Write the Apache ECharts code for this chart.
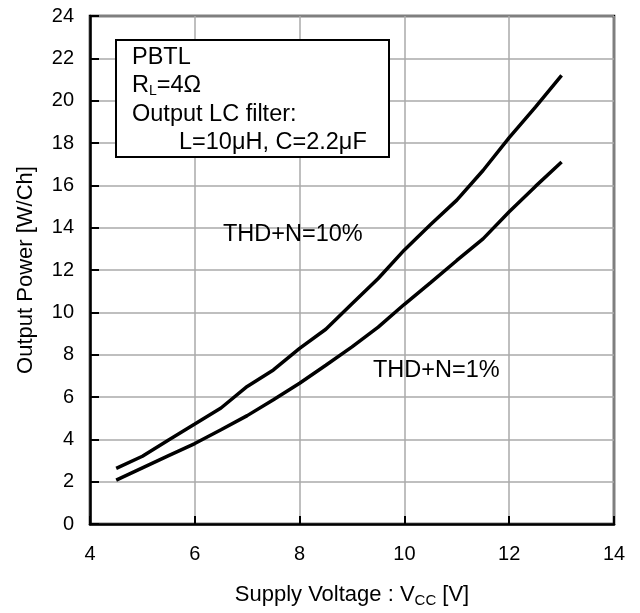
<!DOCTYPE html>
<html>
<head>
<meta charset="utf-8">
<script src="https://cdn.jsdelivr.net/npm/echarts@6/dist/echarts.min.js"></script>
<style>
html,body{margin:0;padding:0;background:#fff;}
#chart{width:640px;height:613px;}
</style>
</head>
<body>
<div id="chart"></div>
<script>
// ---- data ----
const voltage = [4.5, 5, 5.5, 6, 6.5, 7, 7.5, 8, 8.5, 9, 9.5, 10, 10.5, 11, 11.5, 12, 12.5, 13];
const thd10 = [2.63, 3.2, 3.97, 4.72, 5.48, 6.5, 7.28, 8.3, 9.2, 10.4, 11.6, 12.95, 14.15, 15.3, 16.7, 18.25, 19.7, 21.2];
const thd1 = [2.07, 2.65, 3.23, 3.8, 4.45, 5.12, 5.87, 6.65, 7.5, 8.37, 9.3, 10.38, 11.4, 12.45, 13.47, 14.75, 15.95, 17.1];
const seriesNames = ['THD+N=10%', 'THD+N=1%'];
const xTicks = [4, 6, 8, 10, 12, 14];
const yTicks = [0, 2, 4, 6, 8, 10, 12, 14, 16, 18, 20, 22, 24];
const boxLines = ['PBTL', 'R_L=4Ω', 'Output LC filter:', 'L=10μH, C=2.2μF'];

const FONT = '"Liberation Sans", Arial, sans-serif';
const chart = echarts.init(document.getElementById('chart'), null, {renderer: 'canvas'});

function pairs(xs, ys) { return xs.map((x, i) => [x, ys[i]]); }

const option = {
  animation: false,
  backgroundColor: '#fff',
  textStyle: {fontFamily: FONT, color: '#000'},
  grid: {left: 90, right: 26, top: 16, bottom: 86, show: true, borderColor: '#000', borderWidth: 2.5, backgroundColor: 'transparent'},
  xAxis: {
    type: 'value', min: xTicks[0], max: xTicks[xTicks.length - 1], interval: 2,
    name: 'Supply Voltage : V{sub|CC} [V]',
    nameLocation: 'middle', nameGap: 57,
    nameTextStyle: {fontFamily: FONT, fontSize: 22, color: '#000',
      rich: {sub: {fontFamily: FONT, fontSize: 15, padding: [12, 0, 0, 0], color: '#000'}}},
    axisLine: {show: true, lineStyle: {color: '#000', width: 2.5}},
    axisTick: {show: true, inside: true, length: 8, lineStyle: {color: '#000', width: 2}},
    axisLabel: {fontFamily: FONT, fontSize: 20, color: '#000', margin: 20},
    splitLine: {show: true, lineStyle: {color: '#aaaaaa', width: 1.5}}
  },
  yAxis: {
    type: 'value', min: yTicks[0], max: yTicks[yTicks.length - 1], interval: 2,
    name: 'Output Power [W/Ch]',
    nameLocation: 'middle', nameGap: 53, nameRotate: 90,
    nameTextStyle: {fontFamily: FONT, fontSize: 22, color: '#000'},
    axisLine: {show: true, lineStyle: {color: '#000', width: 2.5}},
    axisTick: {show: true, inside: true, length: 9, lineStyle: {color: '#000', width: 2}},
    axisLabel: {fontFamily: FONT, fontSize: 20, color: '#000', margin: 16},
    splitLine: {show: true, lineStyle: {color: '#aaaaaa', width: 1.5}}
  },
  series: [
    {name: seriesNames[0], type: 'line', data: pairs(voltage, thd10), showSymbol: false, smooth: false,
     lineStyle: {color: '#000', width: 3.5}, z: 5},
    {name: seriesNames[1], type: 'line', data: pairs(voltage, thd1), showSymbol: false, smooth: false,
     lineStyle: {color: '#000', width: 3.5}, z: 5}
  ],
  graphic: [
    {type: 'rect', left: 115, top: 39, z: 10,
     shape: {width: 273, height: 117},
     style: {fill: '#fff', stroke: '#000', lineWidth: 2}},
    {type: 'text', left: 132, top: 46, z: 11,
     style: {text: boxLines[0], font: '23.5px ' + FONT, fill: '#000'}},
    {type: 'text', left: 132, top: 74, z: 11,
     style: {text: '{m|R}{s|L}{m|=4Ω}', fill: '#000',
       rich: {m: {fontFamily: FONT, fontSize: 23.5, color: '#000'},
              s: {fontFamily: FONT, fontSize: 14, color: '#000', padding: [10, 0, 0, 0]}}}},
    {type: 'text', left: 132, top: 103, z: 11,
     style: {text: boxLines[2], font: '23.5px ' + FONT, fill: '#000'}},
    {type: 'text', left: 179, top: 131, z: 11,
     style: {text: boxLines[3], font: '23.5px ' + FONT, fill: '#000'}},
    {type: 'text', left: 223, top: 223, z: 11,
     style: {text: seriesNames[0], font: '23.5px ' + FONT, fill: '#000'}},
    {type: 'text', left: 373, top: 359, z: 11,
     style: {text: seriesNames[1], font: '23.5px ' + FONT, fill: '#000'}}
  ]
};
chart.setOption(option);
</script>
</body>
</html>
